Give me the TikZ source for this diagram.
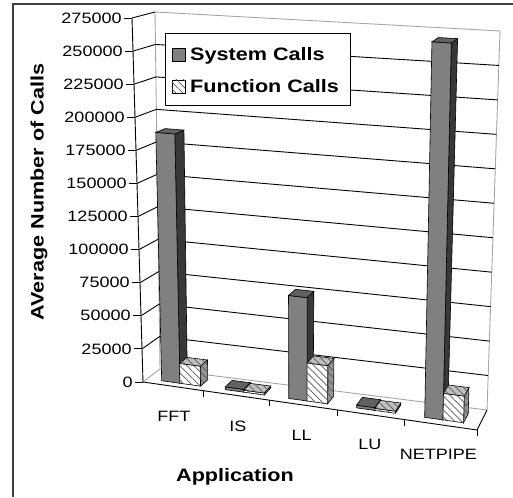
\documentclass[tikz,border=0pt]{standalone}
\usepackage{fontspec}
\setmainfont{Liberation Sans}
\newfontfamily\chartfont[FakeStretch=1.2]{Liberation Sans}
\usetikzlibrary{patterns.meta}

% point in the plot box: u along categories, v height, w depth
\newcommand\cpt[3]{(barycentric cs:%
  FBL={(1-(#1))*(1-(#2))*(1-(#3))},FBR={(#1)*(1-(#2))*(1-(#3))},%
  FTL={(1-(#1))*(#2)*(1-(#3))},FTR={(#1)*(#2)*(1-(#3))},%
  BBL={(1-(#1))*(1-(#2))*(#3)},BBR={(#1)*(1-(#2))*(#3)},%
  BTL={(1-(#1))*(#2)*(#3)},BTR={(#1)*(#2)*(#3)})}
\def\wa{0.25}
\def\wb{0.7}
% one column: u0, u1, height, front, top, side
\newcommand\colbar[6]{%
  \filldraw[#6] \cpt{#2}{0}{\wa} -- \cpt{#2}{0}{\wb} -- \cpt{#2}{#3}{\wb} -- \cpt{#2}{#3}{\wa} -- cycle;
  \filldraw[#4] \cpt{#1}{0}{\wa} -- \cpt{#2}{0}{\wa} -- \cpt{#2}{#3}{\wa} -- \cpt{#1}{#3}{\wa} -- cycle;
  \filldraw[#5] \cpt{#1}{#3}{\wa} -- \cpt{#2}{#3}{\wa} -- \cpt{#2}{#3}{\wb} -- \cpt{#1}{#3}{\wb} -- cycle;}
% both columns of one application (values in thousands)
\newcommand\catbars[3]{%
  \colbar{#1-0.055}{#1}{#2/275}{sysfront}{systop}{sysside}
  \colbar{#1}{#1+0.062}{#3/275}{funfront}{funtop}{funside}}

\begin{document}
\begin{tikzpicture}[x=1pt,y=-1pt,
    frame/.style={draw=black!75,line width=1.6pt},
    wall/.style={draw=black!35,line width=0.9pt},
    gridln/.style={draw=black,line width=0.9pt},
    axisln/.style={draw=black,line width=0.9pt},
    hatch/.style={postaction={pattern={Lines[angle=-45,distance=5pt,line width=0.7pt]},pattern color=black!65}},
    sysfront/.style={draw=black,line width=0.6pt,fill=black!50},
    systop/.style={draw=black,line width=0.6pt,fill=black!62},
    sysside/.style={draw=black,line width=0.6pt,fill=black!78},
    funfront/.style={draw=black,line width=0.6pt,fill=white,hatch},
    funtop/.style={draw=black,line width=0.6pt,fill=black!25,hatch},
    funside/.style={draw=black,line width=0.6pt,fill=black!42,hatch},
    ticklab/.style={font=\chartfont\fontsize{15}{15}\selectfont,inner sep=0pt},
    legtext/.style={font=\chartfont\bfseries\fontsize{18}{18}\selectfont,inner sep=0pt},
    axtitle/.style={font=\chartfont\bfseries\fontsize{18}{18}\selectfont,inner sep=0pt}]
  \useasboundingbox (0,0) rectangle (513,497);
  \draw[frame] (13,497) -- (13,4) -- (513,4);

  % box corners
  \coordinate (FBL) at (143,382);
  \coordinate (FTL) at (132,18);
  \coordinate (FBR) at (477,430);
  \coordinate (FTR) at (487,41);
  \coordinate (BBL) at (160,369);
  \coordinate (BTL) at (155,12);
  \coordinate (BBR) at (487,410);
  \coordinate (BTR) at (500,31);

  % walls and gridlines
  \draw[wall] (FBL) -- (BBL) -- (BBR);
  \draw[wall] (BBL) -- (BTL) -- (BTR) -- (BBR);
  \foreach \k in {1,...,10}
    \draw[gridln] \cpt{0}{\k/11}{0} -- \cpt{0}{\k/11}{1} -- \cpt{1}{\k/11}{1};
  \draw[gridln] \cpt{0}{1}{0} -- \cpt{0}{1}{1};
  \draw[axisln] (FTL) -- (FBL) -- (FBR) -- (BBR);

  % value axis
  \foreach \k in {0,...,11}
    \draw[axisln] \cpt{0}{\k/11}{0} -- ++(-8,0)
      node[ticklab,left=2pt] (ytick\k) {\the\numexpr25000*\k\relax};
  \foreach \u in {0.18,0.38,0.581,0.784,1}
    \draw[axisln] \cpt{\u}{0}{0} -- ++(0,6);

  % legend
  \node[draw=black,line width=0.9pt,fill=white,anchor=north west,
        minimum width=185pt,minimum height=72pt,inner sep=0pt] (legend) at (165,33) {};
  \draw[sysfront] (172,48) rectangle (185,61);
  \node[legtext,anchor=base west] (legsys) at (190,61) {System Calls};
  \draw[funfront] (172,80) rectangle (185,93);
  \node[legtext,anchor=base west] (legfun) at (190,93) {Function Calls};

  % columns
  \catbars{0.0985}{188}{15}
  \catbars{0.29}{2}{1.5}
  \catbars{0.481}{76}{28}
  \catbars{0.685}{2}{1.5}
  \catbars{0.89}{270}{19}

  % category labels
  \foreach \c/\name in {0.0985/FFT,0.29/IS,0.481/LL,0.685/LU,0.89/NETPIPE}
    \path \cpt{\c}{0}{0} ++(-2,30) node[ticklab] (cat\name) {\name};

  \node[axtitle,rotate=90] (ytitle) at (39,192) {AVerage Number of Calls};
  \node[axtitle] (xtitle) at (235,477) {Application};
\end{tikzpicture}
\end{document}
